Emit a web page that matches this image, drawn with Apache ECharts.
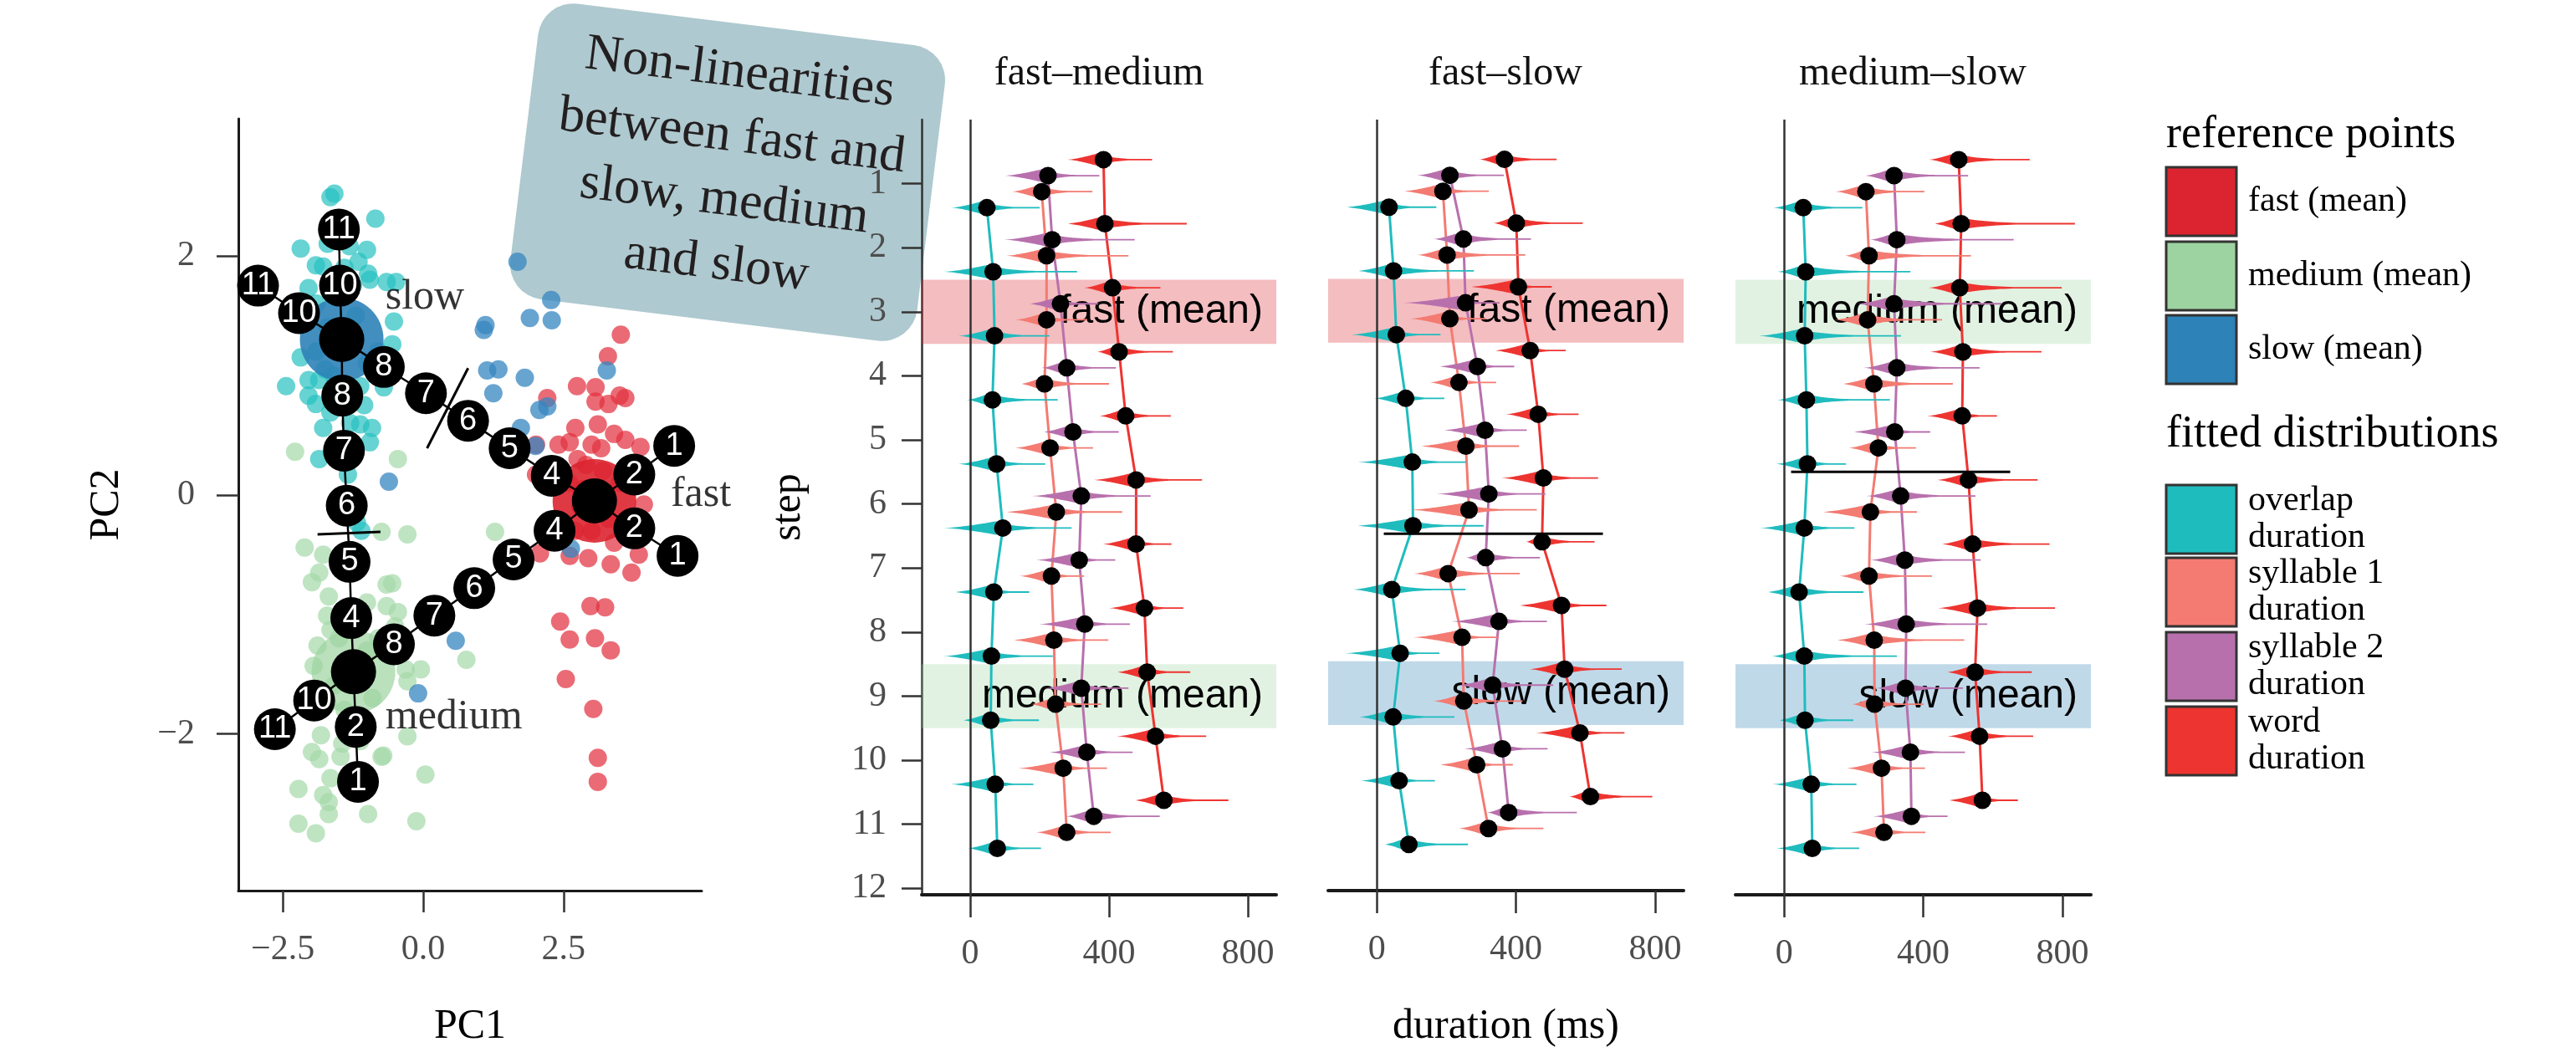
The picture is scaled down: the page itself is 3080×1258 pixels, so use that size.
<!DOCTYPE html>
<html>
<head>
<meta charset="UTF-8">
<title>duration steps</title>
<style>
body { padding:0; border:0; margin:0; }
</style>
<script src="https://cdn.jsdelivr.net/npm/echarts@6/dist/echarts.min.js"></script>
</head>
<body>
<div id="main" style="width:3080px;height:1258px;"></div>
<script>
// ---------- data ----------
var steps = [1, 2, 3, 4, 5, 6, 7, 8, 9, 10, 11];
var stepTicks = [1, 2, 3, 4, 5, 6, 7, 8, 9, 10, 11, 12];
var pcXTicks = [-2.5, 0, 2.5];
var pcYTicks = [-2, 0, 2];
var durTicks = [0, 400, 800];

var panelTitles = ['fast\u2013medium', 'fast\u2013slow', 'medium\u2013slow'];
var refNames = ['fast (mean)', 'medium (mean)', 'slow (mean)'];
var refColors = ['#dc2430', '#9dd3a0', '#2d82b7'];
// order: word, syllable 2, syllable 1, overlap
var distNames = ['word\nduration', 'syllable 2\nduration', 'syllable 1\nduration', 'overlap\nduration'];
var distColors = ['#ee3430', '#b870ad', '#f37b72', '#1fbcbe'];

// fast-medium: mean duration (ms) per step
var fmMean = [
  [384, 388, 410, 429, 448, 478, 478, 502, 510, 534, 558],
  [224, 236, 260, 278, 296, 320, 314, 330, 320, 336, 356],
  [206, 220, 220, 214, 230, 248, 234, 241, 246, 268, 278],
  [48, 66, 70, 64, 76, 94, 68, 61, 59, 72, 78]
];
var fmLeft = [
  [104, 110, 82, 63, 76, 122, 96, 102, 88, 112, 84],
  [124, 138, 90, 72, 86, 142, 124, 132, 106, 108, 80],
  [86, 116, 90, 68, 102, 148, 92, 119, 72, 130, 88],
  [102, 142, 104, 74, 110, 170, 114, 139, 81, 128, 86]
];
var fmRight = [
  [140, 236, 138, 155, 130, 190, 102, 112, 124, 146, 186],
  [148, 238, 108, 142, 132, 200, 104, 130, 136, 132, 190],
  [146, 236, 116, 186, 124, 190, 94, 157, 132, 126, 127],
  [152, 242, 158, 188, 140, 198, 102, 177, 139, 110, 126]
];
var fmBands = [0, 1]; // fast at step 3, medium at step 9

// fast-slow
var fsMean = [
  [367, 401, 407, 441, 464, 479, 475, 531, 540, 584, 614],
  [210, 249, 255, 289, 311, 322, 313, 351, 333, 361, 379],
  [190, 202, 210, 236, 256, 265, 205, 245, 250, 287, 321],
  [35, 48, 56, 83, 102, 104, 43, 67, 47, 64, 92]
];
var fsLeft = [
  [73, 66, 140, 103, 93, 121, 46, 124, 101, 127, 61],
  [94, 87, 179, 111, 119, 150, 56, 138, 100, 110, 62],
  [114, 86, 115, 84, 132, 169, 99, 142, 88, 108, 86],
  [125, 104, 130, 91, 157, 164, 111, 159, 99, 111, 70]
];
var fsRight = [
  [150, 191, 96, 102, 116, 157, 151, 129, 164, 128, 178],
  [155, 194, 98, 106, 120, 163, 156, 138, 174, 130, 196],
  [132, 225, 103, 107, 153, 195, 206, 105, 169, 104, 158],
  [136, 231, 127, 111, 155, 203, 212, 113, 176, 103, 170]
];
var fsBands = [0, 2];
var fsBreak = [6.5, 20, 650];

// medium-slow
var msMean = [
  [502, 509, 505, 514, 512, 530, 542, 556, 549, 562, 570],
  [316, 324, 316, 324, 318, 335, 347, 351, 349, 363, 366],
  [235, 244, 240, 258, 271, 248, 244, 259, 260, 280, 287],
  [55, 62, 59, 64, 67, 58, 43, 58, 60, 78, 81]
];
var msLeft = [
  [86, 78, 90, 94, 101, 90, 89, 114, 81, 92, 98],
  [83, 77, 107, 95, 121, 99, 99, 120, 85, 111, 110],
  [88, 69, 95, 91, 86, 140, 85, 109, 65, 101, 97],
  [86, 81, 132, 83, 90, 127, 92, 95, 76, 111, 103]
];
var msRight = [
  [204, 327, 293, 226, 100, 199, 221, 223, 163, 154, 102],
  [213, 336, 310, 238, 102, 215, 218, 233, 165, 157, 104],
  [168, 293, 214, 227, 108, 134, 181, 259, 141, 125, 119],
  [170, 301, 277, 240, 111, 144, 185, 266, 139, 130, 135]
];
var msBands = [1, 2];
var msBreak = [5.5, 20, 650];

// PCA scatter
var slowPts = [[-1.65,2.49],[-1.58,2.52],[-0.85,2.31],[-2.18,2.06],[-1.31,2.08],[-1.15,1.95],[-0.98,1.85],[-1.91,1.92],[-1.78,1.91],[-2.04,1.73],[-0.65,1.78],[-0.48,1.78],[-0.95,1.80],[-0.52,1.45],[-0.55,1.26],[-2.18,1.15],[-2.44,0.91],[-2.04,0.96],[-2.04,0.83],[-1.85,0.96],[-1.12,0.91],[-1.91,0.76],[-1.65,0.69],[-1.78,0.56],[-0.91,0.56],[-1.12,0.59],[-0.95,0.44],[-1.85,0.30],[-1.34,0.17],[-1.18,-0.23],[-1.10,-0.30],[-1.90,1.60],[-1.70,1.40],[-1.20,1.50],[-0.80,1.20],[-1.90,1.20],[-1.60,1.00],[-1.30,0.60],[-1.50,0.45],[-1.00,1.10],[-0.70,0.90],[-1.70,2.10],[-1.40,1.90],[-1.00,2.05],[-1.55,1.65],[-1.25,1.75],[-1.75,1.05],[-1.05,0.75]];
var mediumPts = [[-2.28,0.36],[-0.45,0.30],[1.28,-0.31],[-0.28,-0.33],[-0.74,-0.31],[-2.11,-0.44],[-1.78,-0.50],[-1.98,-0.73],[-1.68,-0.85],[-0.65,-0.75],[-0.55,-0.74],[-0.65,-0.93],[-0.45,-0.98],[-1.71,-1.01],[-1.65,-1.13],[-1.88,-1.26],[-0.31,-1.46],[-0.04,-1.46],[-0.28,-1.56],[0.77,-1.38],[-1.95,-1.43],[-0.28,-2.02],[-1.82,-2.01],[-1.98,-2.15],[-1.85,-2.21],[-1.47,-2.19],[-0.74,-2.19],[-0.71,-2.18],[0.04,-2.34],[-2.22,-2.46],[-1.78,-2.51],[-1.68,-2.57],[-1.68,-2.67],[-0.98,-2.67],[-0.12,-2.73],[-2.22,-2.75],[-1.91,-2.83],[-1.65,-2.37],[-1.44,-2.08],[-1.12,-2.06],[-1.60,-1.60],[-1.00,-1.30],[-1.40,-1.80],[-0.90,-1.70],[-1.50,-1.20],[-1.10,-1.95],[-1.70,-1.75],[-0.80,-1.20],[-1.30,-0.60],[-1.00,-0.90],[-1.85,-0.65],[-0.50,-1.10]];
var fastPts = [[3.52,1.34],[3.29,1.16],[2.74,0.91],[3.07,0.90],[2.21,0.81],[3.07,0.78],[3.30,0.76],[3.50,0.83],[3.60,0.81],[2.71,0.56],[3.11,0.59],[2.61,0.44],[3.40,0.51],[3.60,0.46],[3.87,0.40],[3.00,0.42],[2.41,0.42],[2.01,0.42],[3.17,0.39],[3.93,-0.08],[2.01,0.17],[2.60,0.10],[2.80,-0.10],[3.30,-0.20],[3.50,0.10],[2.90,0.25],[3.20,0.20],[2.70,-0.30],[3.40,-0.40],[2.08,-0.49],[2.61,-0.51],[2.94,-0.53],[3.34,-0.58],[3.71,-0.65],[3.84,-0.50],[2.98,-0.93],[3.24,-0.94],[2.44,-1.06],[2.61,-1.21],[3.06,-1.20],[3.34,-1.30],[2.54,-1.54],[3.03,-1.79],[3.11,-2.20],[3.11,-2.40],[2.85,0.05],[3.25,-0.05],[3.00,-0.30],[2.75,0.30]];
var otherPts = [[1.68,1.95],[2.28,1.63],[1.90,1.48],[2.29,1.46],[1.11,1.42],[1.08,1.38],[1.14,1.04],[1.34,1.05],[1.81,0.98],[1.25,0.85],[3.27,1.04],[2.07,0.71],[2.21,0.74],[1.74,0.56],[2.00,0.41],[-0.61,0.11],[2.63,-0.45],[0.58,-1.22],[-0.09,-1.66]];

var refMeans = [[3.05, -0.05], [-1.24, -1.48], [-1.45, 1.30]]; // fast, medium, slow

// interpolation paths, steps 1..11 (3 and 9 are the reference means)
var fastSlowPath = [[4.47,0.41],[3.76,0.17],[3.05,-0.05],[2.29,0.16],[1.54,0.39],[0.80,0.62],[0.05,0.85],[-0.70,1.07],[-1.45,1.30],[-2.21,1.52],[-2.94,1.75]];
var fastMediumPath = [[4.53,-0.51],[3.76,-0.28],[3.05,-0.05],[2.34,-0.30],[1.61,-0.54],[0.91,-0.78],[0.20,-1.01],[-0.52,-1.25],[-1.24,-1.48],[-1.94,-1.72],[-2.64,-1.96]];
var mediumSlowPath = [[-1.16,-2.40],[-1.20,-1.94],[-1.24,-1.48],[-1.28,-1.03],[-1.31,-0.56],[-1.36,-0.09],[-1.41,0.37],[-1.44,0.83],[-1.45,1.30],[-1.48,1.75],[-1.50,2.22]];
var pathBreaks = [[[0.80,1.06],[0.07,0.39]], [[-1.88,-0.33],[-0.76,-0.31]]];
var clusterLabels = [['slow', -0.68, 1.65], ['fast', 4.40, 0.0], ['medium', -0.68, -1.86]];

// ---------- chart ----------
var myChart = echarts.init(document.getElementById('main'));

var SERIF = 'Liberation Serif';
var tickGray = '#4d4d4d';
var offsets = [-0.375, -0.125, 0.125, 0.375];

function minusFmt(v, digits) {
  var s = Math.abs(v).toFixed(digits);
  return v < 0 ? '\u2212' + s : s;
}

function violinItem(params, api) {
  var mean = api.value(0), y = api.value(1), lo = api.value(2), hi = api.value(3);
  var pm = api.coord([mean, y]);
  var pl = api.coord([mean - lo, y]);
  var ph = api.coord([mean + hi, y]);
  var H = 8, n = 24;
  var mode = pm[0] - 0.12 * (pm[0] - pl[0]);
  var top = [], bot = [];
  for (var i = 0; i <= n; i++) {
    var x = pl[0] + (mode - pl[0]) * i / n;
    var h = H * Math.pow(i / n, 1.4);
    top.push([x, pm[1] - h]); bot.push([x, pm[1] + h]);
  }
  for (var j = 1; j <= n; j++) {
    var x2 = mode + (ph[0] - mode) * j / n;
    var h2 = Math.max(H * Math.exp(-4.0 * j / n), 0.9);
    top.push([x2, pm[1] - h2]); bot.push([x2, pm[1] + h2]);
  }
  return { type: 'polygon', shape: { points: top.concat(bot.reverse()) },
           style: { fill: api.visual('color') } };
}

function bandItem(params, api) {
  var cs = params.coordSys;
  var s = api.value(0), k = api.value(1);
  var y0 = api.coord([0, s - 0.5])[1], y1 = api.coord([0, s + 0.5])[1];
  return { type: 'group', children: [
    { type: 'rect', shape: { x: cs.x, y: Math.min(y0, y1), width: cs.width, height: Math.abs(y1 - y0) },
      style: { fill: refColors[k], opacity: 0.3 } },
    { type: 'text', x: cs.x + cs.width - 16, y: (y0 + y1) / 2,
      style: { text: refNames[k], align: 'right', verticalAlign: 'middle',
               font: '48px "Liberation Sans"', fill: '#000' } }
  ]};
}

var grids = [
  { left: 285, top: 142, width: 554, height: 929 },
  { left: 1102, top: 143, width: 424, height: 927 },
  { left: 1588, top: 143, width: 425, height: 927 },
  { left: 2075, top: 143, width: 425, height: 927 }
];

var axisLineStyle = { color: '#1a1a1a', width: 3 };
var tickStyle = { color: '#333', width: 2.5 };

var xAxes = [{
  gridIndex: 0, type: 'value', min: -3.29, max: 4.96,
  name: 'PC1', nameLocation: 'middle', nameGap: 138,
  nameTextStyle: { fontSize: 50, fontFamily: SERIF, color: '#000' },
  axisLine: { show: true, onZero: false, lineStyle: axisLineStyle },
  axisTick: { show: true, length: 26, lineStyle: tickStyle, customValues: pcXTicks },
  axisLabel: { customValues: pcXTicks, margin: 50, fontSize: 42, color: tickGray, fontFamily: SERIF,
               formatter: function (v) { return minusFmt(v, 1); } },
  splitLine: { show: false }
}];
var yAxes = [{
  gridIndex: 0, type: 'value', min: -3.31, max: 3.146,
  name: 'PC2', nameLocation: 'middle', nameGap: 132,
  nameTextStyle: { fontSize: 50, fontFamily: SERIF, color: '#000' },
  axisLine: { show: true, onZero: false, lineStyle: axisLineStyle },
  axisTick: { show: true, length: 26, lineStyle: tickStyle, customValues: pcYTicks },
  axisLabel: { customValues: pcYTicks, margin: 52, fontSize: 42, color: tickGray, fontFamily: SERIF,
               formatter: function (v) { return minusFmt(v, 0); } },
  splitLine: { show: false }
}];

for (var p = 0; p < 3; p++) {
  xAxes.push({
    gridIndex: p + 1, type: 'value', min: -140, max: 882, position: 'bottom',
    name: p === 1 ? 'duration (ms)' : '', nameLocation: 'middle', nameGap: 138,
    nameTextStyle: { fontSize: 50, fontFamily: SERIF, color: '#000' },
    axisLine: { show: true, onZero: false, lineStyle: { color: '#1a1a1a', width: 4 } },
    axisTick: { show: true, length: 27, lineStyle: tickStyle, customValues: durTicks },
    axisLabel: { customValues: durTicks, margin: 50, fontSize: 42, color: tickGray, fontFamily: SERIF },
    splitLine: { show: false }
  });
  yAxes.push({
    gridIndex: p + 1, type: 'value', inverse: true, min: 0, max: 12.1,
    name: p === 0 ? 'step' : '', nameLocation: 'middle', nameGap: 134,
    nameTextStyle: { fontSize: 50, fontFamily: SERIF, color: '#000' },
    axisLine: { show: p === 0, onZero: false, lineStyle: { color: '#333', width: 2.5 } },
    axisTick: { show: p === 0, length: 24, lineStyle: tickStyle, customValues: stepTicks },
    axisLabel: { show: p === 0, customValues: stepTicks, margin: 42, fontSize: 42, color: tickGray, fontFamily: SERIF },
    splitLine: { show: false }
  });
}

var series = [];

// ---- PCA panel ----
var ptSets = [[slowPts, '#26c0c0', 0.7], [mediumPts, '#a4d8a8', 0.7], [fastPts, '#e23240', 0.72], [otherPts, '#3586c0', 0.75]];
ptSets.forEach(function (s) {
  series.push({ type: 'scatter', xAxisIndex: 0, yAxisIndex: 0, data: s[0], symbolSize: 22,
    itemStyle: { color: s[1], opacity: s[2] }, z: 1, silent: true });
});
series.push({ type: 'scatter', xAxisIndex: 0, yAxisIndex: 0, symbolSize: 100, z: 2, silent: true,
  data: refMeans.map(function (m, i) {
    return { value: m, itemStyle: { color: refColors[i], opacity: i === 1 ? 0.7 : 0.9 } };
  })
});
[fastSlowPath, fastMediumPath, mediumSlowPath].forEach(function (path) {
  series.push({ type: 'line', xAxisIndex: 0, yAxisIndex: 0, data: path, showSymbol: false,
    lineStyle: { color: '#000', width: 2.5 }, z: 3, silent: true });
  series.push({ type: 'scatter', xAxisIndex: 0, yAxisIndex: 0, symbolSize: 50, z: 4, silent: true,
    itemStyle: { color: '#000', opacity: 1 },
    label: { show: true, position: 'inside', formatter: '{b}', color: '#fff', fontSize: 38, fontFamily: 'Liberation Sans' },
    data: path.map(function (pt, i) { return { value: pt, name: String(steps[i]) }; })
      .filter(function (d, i) { return i !== 2 && i !== 8; })
  });
});
pathBreaks.forEach(function (b) {
  series.push({ type: 'line', xAxisIndex: 0, yAxisIndex: 0, data: b, showSymbol: false,
    lineStyle: { color: '#000', width: 3 }, z: 5, silent: true });
});
series.push({ type: 'scatter', xAxisIndex: 0, yAxisIndex: 0, symbolSize: 54, z: 5, silent: true,
  itemStyle: { color: '#000', opacity: 1 }, data: refMeans });
series.push({ type: 'scatter', xAxisIndex: 0, yAxisIndex: 0, symbolSize: 1, z: 6, silent: true,
  itemStyle: { color: 'rgba(0,0,0,0)' },
  label: { show: true, position: 'right', distance: 0, formatter: '{b}', color: '#000', fontSize: 50, fontFamily: SERIF },
  data: clusterLabels.map(function (c) { return { name: c[0], value: [c[1], c[2]] }; })
});

// ---- duration panels ----
var panels = [
  { mean: fmMean, left: fmLeft, right: fmRight, bands: fmBands, brk: null },
  { mean: fsMean, left: fsLeft, right: fsRight, bands: fsBands, brk: fsBreak },
  { mean: msMean, left: msLeft, right: msRight, bands: msBands, brk: msBreak }
];
panels.forEach(function (pn, p) {
  var ax = p + 1;
  series.push({ type: 'custom', xAxisIndex: ax, yAxisIndex: ax, renderItem: bandItem, z: 1, silent: true,
    data: [[3, pn.bands[0]], [9, pn.bands[1]]] });
  var dots = [];
  for (var k = 0; k < 4; k++) {
    var lineData = [], vData = [];
    for (var i = 0; i < steps.length; i++) {
      var yv = steps[i] + offsets[k];
      lineData.push([pn.mean[k][i], yv]);
      vData.push([pn.mean[k][i], yv, pn.left[k][i], pn.right[k][i]]);
      dots.push([pn.mean[k][i], yv]);
    }
    var ls = { type: 'line', xAxisIndex: ax, yAxisIndex: ax, data: lineData, showSymbol: false,
      lineStyle: { color: distColors[k], width: 3 }, z: 2, silent: true };
    if (k === 0) {
      ls.markLine = { silent: true, symbol: 'none', label: { show: false },
        lineStyle: { color: '#333', width: 2.5, type: 'solid' }, data: [{ xAxis: 0 }] };
    }
    series.push(ls);
    series.push({ type: 'custom', xAxisIndex: ax, yAxisIndex: ax, renderItem: violinItem,
      encode: { x: 0, y: 1 }, data: vData, itemStyle: { color: distColors[k] }, z: 3, silent: true });
  }
  series.push({ type: 'scatter', xAxisIndex: ax, yAxisIndex: ax, data: dots, symbolSize: 21,
    itemStyle: { color: '#000', opacity: 1 }, z: 4, silent: true });
  if (pn.brk) {
    series.push({ type: 'line', xAxisIndex: ax, yAxisIndex: ax, showSymbol: false, z: 5, silent: true,
      data: [[pn.brk[1], pn.brk[0]], [pn.brk[2], pn.brk[0]]], lineStyle: { color: '#000', width: 3 } });
  }
});

// ---- titles, legend, annotation ----
var graphics = [];
var titleX = [1314, 1800, 2287];
panelTitles.forEach(function (t, i) {
  graphics.push({ type: 'text', x: titleX[i], y: 88, z: 10,
    style: { text: t, align: 'center', verticalAlign: 'middle', font: '48px "' + SERIF + '"', fill: '#111' } });
});

graphics.push({ type: 'text', x: 2590, y: 162,
  style: { text: 'reference points', verticalAlign: 'middle', font: '54px "' + SERIF + '"', fill: '#000' } });
var refTop = [200, 289, 377];
refNames.forEach(function (n, i) {
  graphics.push({ type: 'rect', shape: { x: 2590, y: refTop[i], width: 84, height: 82 },
    style: { fill: refColors[i], stroke: '#333', lineWidth: 3 } });
  graphics.push({ type: 'text', x: 2688, y: refTop[i] + 41,
    style: { text: n, verticalAlign: 'middle', font: '42px "' + SERIF + '"', fill: '#000' } });
});
graphics.push({ type: 'text', x: 2590, y: 520,
  style: { text: 'fitted distributions', verticalAlign: 'middle', font: '54px "' + SERIF + '"', fill: '#000' } });
var distTop = [580, 667, 756, 845];
[3, 2, 1, 0].forEach(function (k, i) {
  graphics.push({ type: 'rect', shape: { x: 2590, y: distTop[i], width: 84, height: 82 },
    style: { fill: distColors[k], stroke: '#333', lineWidth: 3 } });
  graphics.push({ type: 'text', x: 2688, y: distTop[i] + 41,
    style: { text: distNames[k], verticalAlign: 'middle', lineHeight: 44, font: '42px "' + SERIF + '"', fill: '#000' } });
});

graphics.push({
  type: 'group', x: 870, y: 206, rotation: -0.122, z: 20,
  children: [
    { type: 'rect', shape: { x: -245, y: -178, width: 490, height: 356, r: 42 },
      style: { fill: 'rgba(160,192,199,0.85)' } },
    { type: 'text', x: 0, y: -4,
      style: { text: 'Non-linearities\nbetween fast and\nslow, medium\nand slow', align: 'center',
               verticalAlign: 'middle', lineHeight: 77, font: '62px "' + SERIF + '"', fill: '#231f20' } }
  ]
});

var option = {
  animation: false,
  backgroundColor: '#fff',
  textStyle: { fontFamily: SERIF },
  grid: grids,
  xAxis: xAxes,
  yAxis: yAxes,
  series: series,
  graphic: graphics
};
myChart.setOption(option);
</script>
</body>
</html>
